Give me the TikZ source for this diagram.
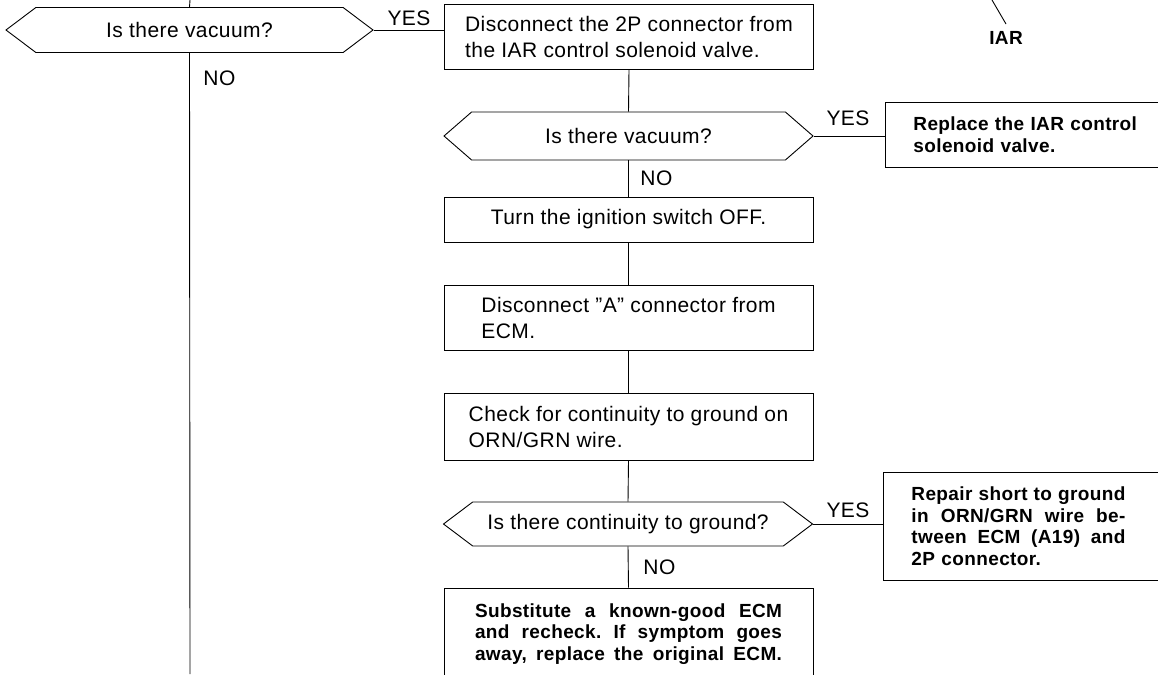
\documentclass[tikz,border=0pt]{standalone}
\usepackage{fontspec}
\setmainfont{Liberation Sans}[LetterSpace=2]
\usetikzlibrary{shapes.symbols}
\newcommand{\flowreg}{\fontsize{21}{26}\selectfont}
\newcommand{\flowbold}{\fontsize{19}{21.5}\selectfont\bfseries}
\newcommand{\spreadline}[2]{\makebox[#1][s]{\frenchspacing\spaceskip=0pt\xspaceskip=0pt #2}}

\begin{document}
\begin{tikzpicture}[x=1pt, y=-1pt, line width=0.9pt,
  stepbox/.style={draw, rectangle, minimum width=369pt, inner sep=0pt, font=\flowreg},
  question/.style={draw, signal, signal to=west and east, signal pointer angle=74,
    inner sep=0pt, minimum width=369pt, font=\flowreg},
  fixbox/.style={draw, rectangle, anchor=west, inner ysep=0pt, inner xsep=28pt,
    text width=260pt, align=left, font=\flowbold},
  answer/.style={inner sep=0pt, font=\flowreg}]

\useasboundingbox (0,0) rectangle (1158,674);

% left branch
\node[question, minimum width=367pt, minimum height=45pt] (q1) at (189.5,30) {Is there vacuum?};
\coordinate (ltop) at (190,0);
\coordinate (lbot) at (190,674);
\draw (ltop) -- (q1.north);
\draw (q1.south) -- (lbot);
\node[answer, anchor=west] (no1) at (203,78) {NO};
\node[answer] (yes1) at (409,18) {YES};

% IAR note
\node[answer, font=\flowbold] (iar) at (1006,38) {IAR};
\coordinate (iarend) at (992,0);
\draw (iarend) -- ([yshift=7pt]iar.north);

% middle column
\node[stepbox, minimum height=65pt, align=left] (b1) at (629,36.5)
  {Disconnect the 2P connector from\\the IAR control solenoid valve.};
\draw (q1.east) -- (q1.east -| b1.west);

\node[question, signal pointer angle=82, minimum height=48pt] (q2) at (628.5,136) {Is there vacuum?};
\draw (b1.south) -- (q2.north);
\node[answer] (yes2) at (848,118) {YES};
\node[fixbox, minimum height=65pt] (r1) at (885,134.5) {Replace the IAR control\\solenoid valve.};
\draw (q2.east) -- (q2.east -| r1.west);
\node[answer, anchor=west] (no2) at (640,178) {NO};

\node[stepbox, minimum height=45pt] (b3) at (628.5,219.5) {Turn the ignition switch OFF.};
\draw (q2.south) -- (b3.north);

\node[stepbox, minimum height=65pt, align=left] (b4) at (628.5,317.5)
  {Disconnect ''A'' connector from\\ECM.};
\draw (b3.south) -- (b4.north);

\node[stepbox, minimum height=67pt, align=left] (b5) at (628.5,426.5)
  {Check for continuity to ground on\\ORN/GRN wire.};
\draw (b4.south) -- (b5.north);

\node[question, minimum height=44pt] (q3) at (628,524) {Is there continuity to ground?};
\draw (b5.south) -- (q3.north);
\node[answer] (yes3) at (848,510) {YES};
\node[fixbox, minimum height=108pt] (r2) at (883,526)
  {\spreadline{214pt}{Repair short to ground}\\
   \spreadline{214pt}{in ORN/GRN wire be-}\\
   \spreadline{214pt}{tween ECM (A19) and}\\
   2P connector.};
\draw (q3.east) -- (q3.east -| r2.west);
\node[answer, anchor=west] (no3) at (643,567) {NO};

\node[stepbox, minimum height=92pt, font=\flowbold, text width=307pt, align=left] (b7) at (628.5,634)
  {\spreadline{307pt}{Substitute a known-good ECM}\\
   \spreadline{307pt}{and recheck. If symptom goes}\\
   \spreadline{307pt}{away, replace the original ECM.}};
\draw (q3.south) -- (b7.north);

\end{tikzpicture}
\end{document}
